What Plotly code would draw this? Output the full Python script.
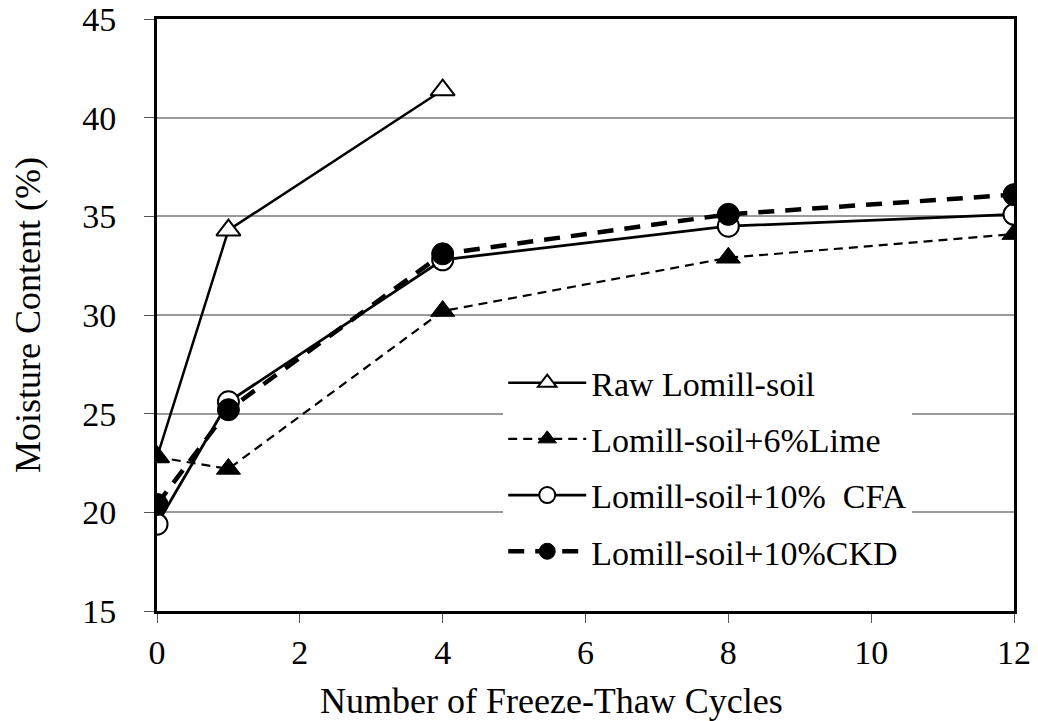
import plotly.graph_objects as go

# freeze-thaw cycles
cycles = [0, 1, 4, 8, 12]
raw_cycles = [0, 1, 4]

# moisture content (%)
raw_soil = [22.8, 34.3, 41.4]
lime_6 = [22.8, 22.2, 30.2, 32.9, 34.1]
cfa_10 = [19.4, 25.6, 32.8, 34.5, 35.1]
ckd_10 = [20.4, 25.2, 33.1, 35.1, 36.1]

names = ["Raw Lomill-soil", "Lomill-soil+6%Lime",
         "Lomill-soil+10%  CFA", "Lomill-soil+10%CKD"]
x_title = "Number of Freeze-Thaw Cycles"
y_title = "Moisture Content (%)"

FONT = "Liberation Serif"

fig = go.Figure()

fig.add_trace(go.Scatter(
    x=raw_cycles, y=raw_soil, name=names[0], legendgroup="a",
    mode="lines+markers", line=dict(color="black", width=2.5),
    marker=dict(symbol="triangle-up", size=21, color="white",
                line=dict(color="black", width=2))))
fig.add_trace(go.Scatter(
    x=cycles, y=lime_6, name=names[1], legendgroup="b",
    mode="lines+markers", line=dict(color="black", width=2.2, dash="9px,6px"),
    marker=dict(symbol="triangle-up", size=21, color="black",
                line=dict(color="black", width=1))))
fig.add_trace(go.Scatter(
    x=cycles, y=cfa_10, name=names[2], legendgroup="c",
    mode="lines+markers", line=dict(color="black", width=2.8),
    marker=dict(symbol="circle", size=21, color="white",
                line=dict(color="black", width=2))))
fig.add_trace(go.Scatter(
    x=cycles, y=ckd_10, name=names[3], legendgroup="d",
    mode="lines+markers", line=dict(color="black", width=4.5, dash="16px,11px"),
    marker=dict(symbol="circle", size=22, color="black",
                line=dict(color="black", width=1))))

# page body has an 8px margin, so the figure is 8px smaller each way
fig.update_layout(
    width=1030, height=713,
    margin=dict(l=149, r=24, t=11, b=110),
    paper_bgcolor="white", plot_bgcolor="white",
    font=dict(family=FONT, size=34, color="black"),
    showlegend=True,
    legend=dict(x=0.404, y=0.434, xanchor="left", yanchor="top",
                bgcolor="white", font=dict(size=34, family=FONT),
                tracegroupgap=9, itemwidth=78, traceorder="grouped"),
)

# axis titles as annotations so their position is fixed
fig.add_annotation(text=x_title, xref="paper", yref="paper",
                   x=0.46, y=-0.152, xanchor="center", yanchor="middle",
                   showarrow=False, font=dict(size=36, family=FONT))
fig.add_annotation(text=y_title, xref="paper", yref="paper",
                   x=-0.1505, y=0.5, xanchor="center", yanchor="middle",
                   textangle=-90, showarrow=False,
                   font=dict(size=36, family=FONT))

fig.update_xaxes(
    range=[0, 12], tickvals=[0, 2, 4, 6, 8, 10, 12],
    showline=True, linecolor="black", linewidth=3, mirror=True,
    ticks="outside", ticklen=9, tickcolor="#555555", tickwidth=1,
    ticklabelstandoff=0, ticklabeloverflow="allow",
    showgrid=False, zeroline=False, automargin=False,
    tickfont=dict(size=34, family=FONT))
fig.update_yaxes(
    range=[15, 45], tickvals=[15, 20, 25, 30, 35, 40, 45],
    showline=True, linecolor="black", linewidth=3, mirror=True,
    ticks="outside", ticklen=10, tickcolor="#555555", tickwidth=1,
    ticklabelstandoff=21, ticklabeloverflow="allow",
    showgrid=True, gridcolor="#999999", gridwidth=2,
    zeroline=False, automargin=False,
    tickfont=dict(size=34, family=FONT))

fig.write_html("out.html")
